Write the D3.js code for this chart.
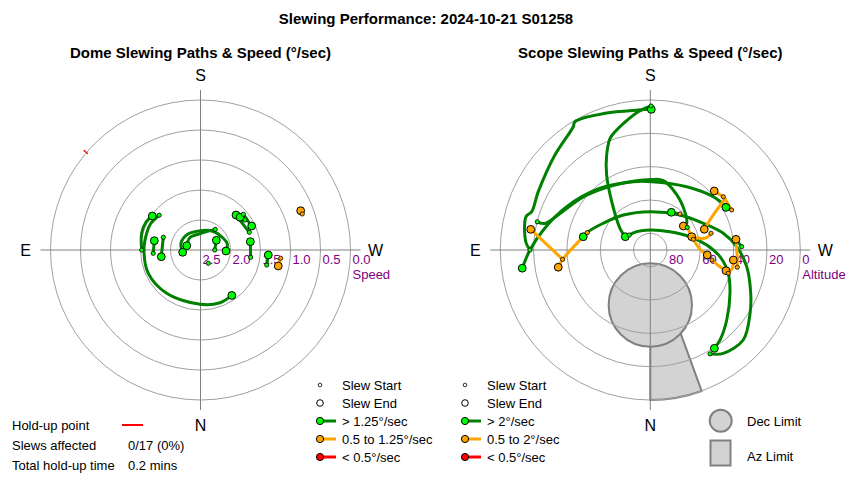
<!DOCTYPE html>
<html><head><meta charset="utf-8">
<script src="https://cdn.jsdelivr.net/npm/d3@7"></script>
<style>body{margin:0;background:#fff} svg{display:block;font-family:"Liberation Sans",Arial,sans-serif}</style>
</head><body><svg id="c" width="850" height="480"></svg>
<script>
// ---------------- DATA ----------------
const mainTitle = "Slewing Performance: 2024-10-21 S01258";
const domeTitle = "Dome Slewing Paths & Speed (°/sec)";
const scopeTitle = "Scope Slewing Paths & Speed (°/sec)";
const compassLabels = ["S", "E", "W", "N"];
const compassAz = [180, 90, 270, 0];

const domeTickValues = [2.5, 2.0, 1.5, 1.0, 0.5, 0.0];
const domeTickLabels = ["2.5", "2.0", "1.5", "1.0", "0.5", "0.0"];
const domeAxisName = "Speed";
const scopeTickValues = [80, 60, 40, 20, 0];
const scopeTickLabels = ["80", "60", "40", "20", "0"];
const scopeAxisName = "Altitude";

// dome slew paths: [azimuth°, speed °/sec]
const domePaths = [
  {c: "g", pts: [[130.1,1.60],[118,1.56],[107.2,1.56],[90,1.558],[65.9,1.547],[38,1.585],[0.5,1.595],[339.7,1.563],[325.4,1.58]]},
  {c: "g", pts: [[90,1.52],[105.9,1.48],[117.2,1.48],[125.2,1.517]]},
  {c: "g", pts: [[86,1.71],[101.4,1.715]]},
  {c: "g", pts: [[108.9,1.845],[80.3,1.837]]},
  {c: "g", pts: [[215.6,2.077],[180,2.225],[140,2.228],[107.3,2.26]]},
  {c: "g", pts: [[270,2.263],[238.5,2.19]]},
  {c: "g", pts: [[272.2,2.075],[257.4,2.042],[242.8,2.073],[211.2,2.13],[180,2.178],[142,2.162],[109.7,2.155],[82.6,2.2]]},
  {c: "g", pts: [[250.1,1.635],[225.4,1.669]]},
  {c: "g", pts: [[230.2,1.57],[244.9,1.558]]},
  {c: "g", pts: [[236,1.605],[230.4,1.645]]},
  {c: "g", pts: [[278.3,1.655],[260.5,1.658]]},
  {c: "g", pts: [[282.8,1.368],[274.2,1.367]]},
  {c: "o", pts: [[275.9,1.157],[281.6,1.177]]},
  {c: "o", pts: [[250.5,0.70],[248.6,0.707]]}
];
const domeStarts = [[130.1,1.60,"g"],[90,1.52,"g"],[86,1.71,"g"],[108.9,1.845,"g"],[215.6,2.077,"g"],[270,2.263,"g"],[329.6,2.243,"g"],
  [250.1,1.635,"g"],[230.2,1.57,"g"],[236,1.605,"g"],[278.3,1.655,"g"],[282.8,1.368,"g"],[275.9,1.157,"o"],[250.5,0.70,"o"]];
const domeEnds = [[325.4,1.58,"g"],[125.2,1.517,"g"],[101.4,1.715,"g"],[80.3,1.837,"g"],[107.3,2.26,"g"],[238.5,2.19,"g"],[82.6,2.2,"g"],
  [272.2,2.075,"g"],[225.4,1.669,"g"],[244.9,1.558,"g"],[230.4,1.645,"g"],[260.5,1.658,"g"],[274.2,1.367,"g"],[281.6,1.177,"o"],[248.6,0.707,"o"]];
// hold-up marks: azimuth, speed range
const holdUps = [{az: 130.5, from: 0.03, to: -0.06}];

// scope slew paths: [azimuth°, altitude°]
const scopePaths = [
  {c: "g", pts: [[90,17.8],[93.8,15.1],[105,12.8],[107.9,15.2],[117.5,14.2],[134.9,9.2],[148,2.8],[149.6,0.7],[161.7,3.6],[175.1,5.7],[180.4,5.6]]},
  {c: "g", pts: [[180.3,3.6],[175,6.7],[163.4,15.9],[160.2,18.8],[155.3,27.3],[149.8,37.9],[141.4,52.9],[125.6,67.6],[118,73]]},
  {c: "g", pts: [[241.6,37],[229.8,40.5],[209.9,46.2],[181.2,49],[166,47.8],[140.8,42.2],[117.4,33.5],[100.6,24.7],[90,17.8],[81.9,12.4]]},
  {c: "g", pts: [[104,20.1],[104.1,24.8],[110.8,30.8],[129.6,39.2],[152.8,45.8],[181.1,47.7],[190.6,47.7],[210.7,55.1],[233.7,62.9],[234,65.5]]},
  {c: "g", pts: [[330.1,18.1],[324.8,14.1],[314.1,12.4],[302.4,19.1],[293.3,24.4],[279.8,31.3],[267.8,38.1],[257.1,45.1],[243.3,54.4],[220.3,62.5],[180,67],[142.4,63.5],[119.6,57.5],[105.2,50.5],[101.2,49]]},
  {c: "g", pts: [[125.5,74.5],[143.4,76.3],[180,78],[227.1,73.9],[251.5,64.9],[264.9,56],[275.5,48],[286.6,41.2],[298.5,35.6],[312.5,27.8],[322.2,21.7],[326.9,19.6]]},
  {c: "g", pts: [[219.5,62],[209.1,64.1]]},
  {c: "g", pts: [[267.9,35.1],[262.9,38.2]]},
  {c: "o", pts: [[83.9,37.1],[99.8,17.2]]},
  {c: "o", pts: [[105.4,50.8],[83.9,37.1],[79.4,33.8]]},
  {c: "o", pts: [[233.9,35.8],[227.3,37.8]]},
  {c: "o", pts: [[243.8,35.6],[235.7,35.7]]},
  {c: "o", pts: [[235.7,35.7],[240.5,46.1],[249,55.3]]},
  {c: "o", pts: [[254.6,52.2],[257.7,55.4],[256.3,60.4],[252.2,63.9]]},
  {c: "o", pts: [[238.5,64],[256,63.4],[267.6,60.8],[275,55.7]]},
  {c: "o", pts: [[279.2,52.5],[283.1,47.7],[285.3,42.9]]},
  {c: "o", pts: [[286.6,41.2],[281.6,39.4],[276.9,39.8]]},
  {c: "o", pts: [[281.2,36.8],[272.6,37.9],[262.9,38.2]]}
];
const scopeStarts = [[90,17.8,"g"],[180.3,3.6,"g"],[104,20.1,"g"],[330.1,18.1,"g"],[125.5,74.5,"g"],[83.9,37.1,"o"],[105.4,50.8,"o"],
  [233.9,35.8,"o"],[243.8,35.6,"o"],[254.6,52.2,"o"],[238.5,64,"g"],[256,63.4,"o"],[279.2,52.5,"o"],[286.6,41.2,"o"],[281.2,36.8,"o"],
  [219.5,62,"o"],[267.9,35.1,"g"]];
const scopeEnds = [[180.4,5.6,"g"],[118,73,"g"],[81.9,12.4,"g"],[234,65.5,"o"],[101.2,49,"g"],[326.9,19.6,"g"],[99.8,17.2,"o"],[79.4,33.8,"o"],
  [227.3,37.8,"o"],[240.6,37.9,"g"],[249,55.3,"o"],[252.2,63.9,"o"],[275,55.7,"o"],[285.3,42.9,"o"],[276.9,39.8,"o"],[262.9,38.2,"o"],[209.1,64.1,"g"]];
// limits
const decLimit = {az: 0, alt: 57, radiusDeg: 25};
const azLimit = {azFrom: 340, azTo: 360, altFrom: 57, altTo: 0};

const domeLegendLabels = ["Slew Start", "Slew End", "> 1.25°/sec", "0.5 to 1.25°/sec", "< 0.5°/sec"];
const scopeLegendLabels = ["Slew Start", "Slew End", "> 2°/sec", "0.5 to 2°/sec", "< 0.5°/sec"];
const legendKinds = ["start", "end", "g", "o", "r"];
const holdupLabels = ["Hold-up point", "Slews affected", "Total hold-up time"];
const holdupValues = ["", "0/17 (0%)", "0.2 mins"];
const limitLegendLabels = ["Dec Limit", "Az Limit"];

// ---------------- DRAWING ----------------
const lineColor = {g: "#008000", o: "#FFA500", r: "#FF0000"};
const dotColor = {g: "#00FF00", o: "#FFA500", r: "#FF0000"};
const svg = d3.select("#c");
const R = 150;
const rad = d => d * Math.PI / 180;

svg.append("text").attr("x", 426).attr("y", 24).attr("text-anchor", "middle")
  .attr("font-size", 15).attr("font-weight", "bold").text(mainTitle);

function polarChart(cx, cy, rScale, title) {
  const g = svg.append("g").attr("transform", `translate(${cx},${cy})`);
  svg.append("text").attr("x", cx).attr("y", 58).attr("text-anchor", "middle")
    .attr("font-size", 15).attr("font-weight", "bold").text(title);
  const pos = (az, v) => [-rScale(v) * Math.sin(rad(az)), rScale(v) * Math.cos(rad(az))];
  return {g, pos};
}

function drawGrid(g, rScale, tickVals, tickLabels, axisName, ringVals) {
  const grid = g.append("g");
  grid.selectAll("circle").data(ringVals).join("circle")
    .attr("r", d => rScale(d)).attr("fill", "none").attr("stroke", "#a0a0a0").attr("stroke-width", 1);
  grid.append("line").attr("x1", 0).attr("x2", 0).attr("y1", -160).attr("y2", 160).attr("stroke", "#808080");
  grid.append("line").attr("y1", 0).attr("y2", 0).attr("x1", -160).attr("x2", 160).attr("stroke", "#808080");
  grid.selectAll("text.tk").data(tickVals).join("text").attr("class", "tk")
    .attr("x", d => rScale(d) + 2).attr("y", 14).attr("font-size", 13).attr("fill", "#800080")
    .text((d, i) => tickLabels[i]);
  grid.append("text").attr("x", R + 2).attr("y", 29).attr("font-size", 13).attr("fill", "#800080").text(axisName);
  grid.selectAll("text.cp").data(compassLabels).join("text").attr("class", "cp")
    .attr("x", (d, i) => -175 * Math.sin(rad(compassAz[i])))
    .attr("y", (d, i) => 175 * Math.cos(rad(compassAz[i])))
    .attr("text-anchor", "middle").attr("dominant-baseline", "central").attr("font-size", 16).text(d => d);
}

function drawSlews(g, rScale, pos, paths, starts, ends) {
  const line = d3.lineRadial().angle(d => rad(d[0] + 180)).radius(d => rScale(d[1])).curve(d3.curveCatmullRom.alpha(0.5));
  g.append("g").selectAll("path").data(paths).join("path")
    .attr("d", d => line(d.pts)).attr("fill", "none").attr("stroke", d => lineColor[d.c])
    .attr("stroke-width", 3).attr("stroke-linecap", "round").attr("stroke-linejoin", "round");
  g.append("g").selectAll("circle").data(ends).join("circle")
    .attr("cx", d => pos(d[0], d[1])[0]).attr("cy", d => pos(d[0], d[1])[1])
    .attr("r", 3.9).attr("fill", d => dotColor[d[2]]).attr("stroke", "#000").attr("stroke-width", 1);
  g.append("g").selectAll("circle").data(starts).join("circle")
    .attr("cx", d => pos(d[0], d[1])[0]).attr("cy", d => pos(d[0], d[1])[1])
    .attr("r", 2.1).attr("fill", d => dotColor[d[2]]).attr("stroke", "#000").attr("stroke-width", 0.8);
}

// Dome
const rDome = d3.scaleLinear().domain([2.5, 0]).range([0, R]);
const dome = polarChart(200.5, 250, rDome, domeTitle);
drawGrid(dome.g, rDome, domeTickValues, domeTickLabels, domeAxisName, domeTickValues.filter(v => v < 2.5));
drawSlews(dome.g, rDome, dome.pos, domePaths, domeStarts, domeEnds);
dome.g.selectAll("line.hu").data(holdUps).join("line").attr("class", "hu")
  .attr("x1", d => dome.pos(d.az, d.from)[0]).attr("y1", d => dome.pos(d.az, d.from)[1])
  .attr("x2", d => dome.pos(d.az, d.to)[0]).attr("y2", d => dome.pos(d.az, d.to)[1])
  .attr("stroke", "#FF0000").attr("stroke-width", 1.5);

// Scope
const rScope = d3.scaleLinear().domain([90, 0]).range([0, R]);
const scope = polarChart(650.3, 250, rScope, scopeTitle);
const lim = scope.g.append("g");
lim.append("path").attr("d", d3.arc()({
    innerRadius: rScope(azLimit.altFrom), outerRadius: rScope(azLimit.altTo),
    startAngle: rad(azLimit.azFrom + 180), endAngle: rad(azLimit.azTo + 180)}))
  .attr("fill", "#d3d3d3").attr("stroke", "#808080").attr("stroke-width", 2);
lim.append("circle").attr("cx", scope.pos(decLimit.az, decLimit.alt)[0]).attr("cy", scope.pos(decLimit.az, decLimit.alt)[1])
  .attr("r", rScope(90 - decLimit.radiusDeg)).attr("fill", "#d3d3d3").attr("stroke", "#808080").attr("stroke-width", 2);
drawGrid(scope.g, rScope, scopeTickValues, scopeTickLabels, scopeAxisName, scopeTickValues);
drawSlews(scope.g, rScope, scope.pos, scopePaths, scopeStarts, scopeEnds);

// Legends
function legend(x0, labels) {
  const lg = svg.append("g");
  labels.forEach((t, i) => {
    const y = 385 + i * 18;
    const k = legendKinds[i];
    if (k === "start") lg.append("circle").attr("cx", x0).attr("cy", y).attr("r", 1.8).attr("fill", "#fff").attr("stroke", "#000").attr("stroke-width", 0.8);
    else if (k === "end") lg.append("circle").attr("cx", x0).attr("cy", y).attr("r", 3.3).attr("fill", "#fff").attr("stroke", "#000").attr("stroke-width", 1);
    else {
      lg.append("line").attr("x1", x0).attr("x2", x0 + 16).attr("y1", y).attr("y2", y).attr("stroke", lineColor[k]).attr("stroke-width", 3);
      lg.append("circle").attr("cx", x0).attr("cy", y).attr("r", 3.6).attr("fill", dotColor[k]).attr("stroke", "#000").attr("stroke-width", 1);
    }
    lg.append("text").attr("x", x0 + 22).attr("y", y).attr("dominant-baseline", "central").attr("font-size", 13).text(t);
  });
}
legend(320, domeLegendLabels);
legend(465, scopeLegendLabels);

// Hold-up info
holdupLabels.forEach((t, i) => {
  const y = 425 + i * 20;
  svg.append("text").attr("x", 12).attr("y", y).attr("dominant-baseline", "central").attr("font-size", 13).text(t);
  svg.append("text").attr("x", 128).attr("y", y).attr("dominant-baseline", "central").attr("font-size", 13).text(holdupValues[i]);
});
svg.append("line").attr("x1", 122).attr("x2", 143).attr("y1", 425).attr("y2", 425).attr("stroke", "#FF0000").attr("stroke-width", 2);

// Limit legend
svg.append("circle").attr("cx", 720.7).attr("cy", 420.7).attr("r", 11).attr("fill", "#d3d3d3").attr("stroke", "#808080").attr("stroke-width", 2);
svg.append("rect").attr("x", 710.5).attr("y", 440.5).attr("width", 20).attr("height", 25).attr("fill", "#d3d3d3").attr("stroke", "#808080").attr("stroke-width", 2);
limitLegendLabels.forEach((t, i) => {
  svg.append("text").attr("x", 747).attr("y", [421, 456.5][i]).attr("dominant-baseline", "central").attr("font-size", 13).text(t);
});
</script></body></html>
